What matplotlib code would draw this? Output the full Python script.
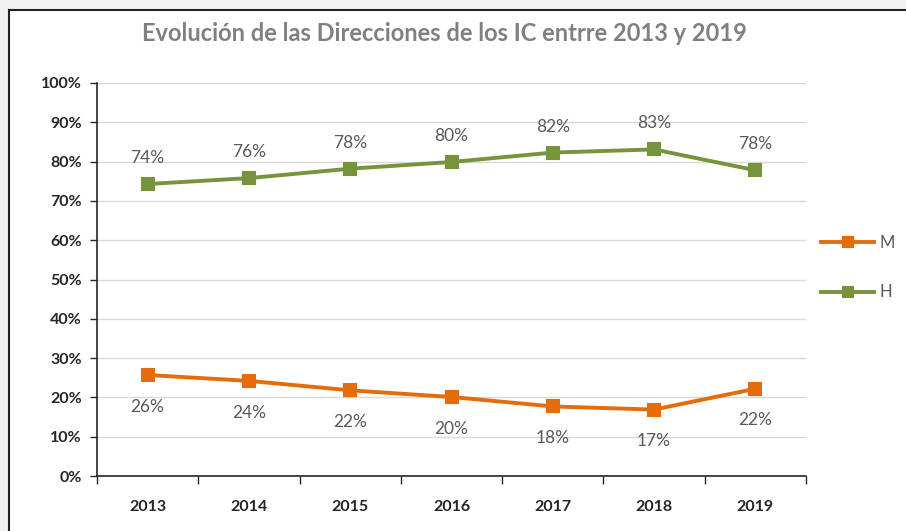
import numpy as np
import matplotlib.pyplot as plt
from matplotlib.patches import Rectangle

# Datos
years = ['2013', '2014', '2015', '2016', '2017', '2018', '2019']
h_vals = [74.3, 75.8, 78.2, 79.9, 82.3, 83.1, 77.8]
m_vals = [25.7, 24.2, 21.8, 20.1, 17.7, 16.9, 22.2]
y_ticks = [0, 10, 20, 30, 40, 50, 60, 70, 80, 90, 100]

orange = '#E46C0A'
green = '#77933C'

plt.rcParams['font.family'] = ['Lato', 'DejaVu Sans']

fig = plt.figure(figsize=(9.06, 5.31), dpi=100)
fig.patch.set_facecolor('#f0f0f0')

# marco blanco del grafico
W, H = 906, 531
fig.patches.append(Rectangle((9 / W, -0.1), 1.2, (H - 10) / H + 0.1,
                             transform=fig.transFigure, facecolor='white',
                             edgecolor='#222222', linewidth=1.5, zorder=-1))

ax = fig.add_axes([97 / W, 55 / H, 709 / W, 393 / H])
ax.set_facecolor('white')
x = np.arange(len(years))

ax.plot(x, m_vals, color=orange, lw=2.8, marker='s', markersize=8.5,
        markeredgewidth=1.5, markeredgecolor=orange, label='M', zorder=3)
ax.plot(x, h_vals, color=green, lw=2.8, marker='s', markersize=8.5,
        markeredgewidth=1.5, markeredgecolor=green, label='H', zorder=3)

for xi, v in zip(x, h_vals):
    ax.annotate(f'{round(v)}%', (xi, v), xytext=(0, 13), textcoords='offset points',
                ha='center', va='bottom', fontsize=12.5, color='#595959')
for xi, v in zip(x, m_vals):
    ax.annotate(f'{round(v)}%', (xi, v), xytext=(0, -17), textcoords='offset points',
                ha='center', va='top', fontsize=12.5, color='#595959')

ax.set_xlim(-0.5, len(years) - 0.5)
ax.set_ylim(0, 100)
ax.set_yticks(y_ticks)
ax.set_yticklabels([f'{t}%' for t in y_ticks], fontweight='bold', fontsize=11.5,
                   color='#262626')
ax.set_xticks(x)
ax.set_xticklabels(years, fontweight='bold', fontsize=11.5, color='#262626')
ax.set_xticks(np.arange(-0.5, len(years)), minor=True)
ax.tick_params(axis='x', which='major', length=0, pad=17)
ax.tick_params(axis='x', which='minor', length=6, width=1, color='#262626')
ax.tick_params(axis='y', length=5, width=1, color='#262626', pad=6)
ax.grid(axis='y', color='#d9d9d9', lw=1)
ax.set_axisbelow(True)
for s in ['top', 'right']:
    ax.spines[s].set_visible(False)
for s in ['left', 'bottom']:
    ax.spines[s].set_color('#262626')
    ax.spines[s].set_linewidth(1.2)

fig.text(0.49, 0.937, 'Evolución de las Direcciones de los IC entrre 2013 y 2019',
         ha='center', va='center', fontsize=17, fontweight='bold', color='#808080')

leg = ax.legend(loc='center left', bbox_to_anchor=(1.0, 0.53), frameon=False,
                fontsize=12, labelspacing=2.0, handlelength=3.2, handletextpad=0.3,
                markerscale=0.9)
for t in leg.get_texts():
    t.set_color('#595959')

fig.savefig('out.png', dpi=100, facecolor=fig.get_facecolor())
